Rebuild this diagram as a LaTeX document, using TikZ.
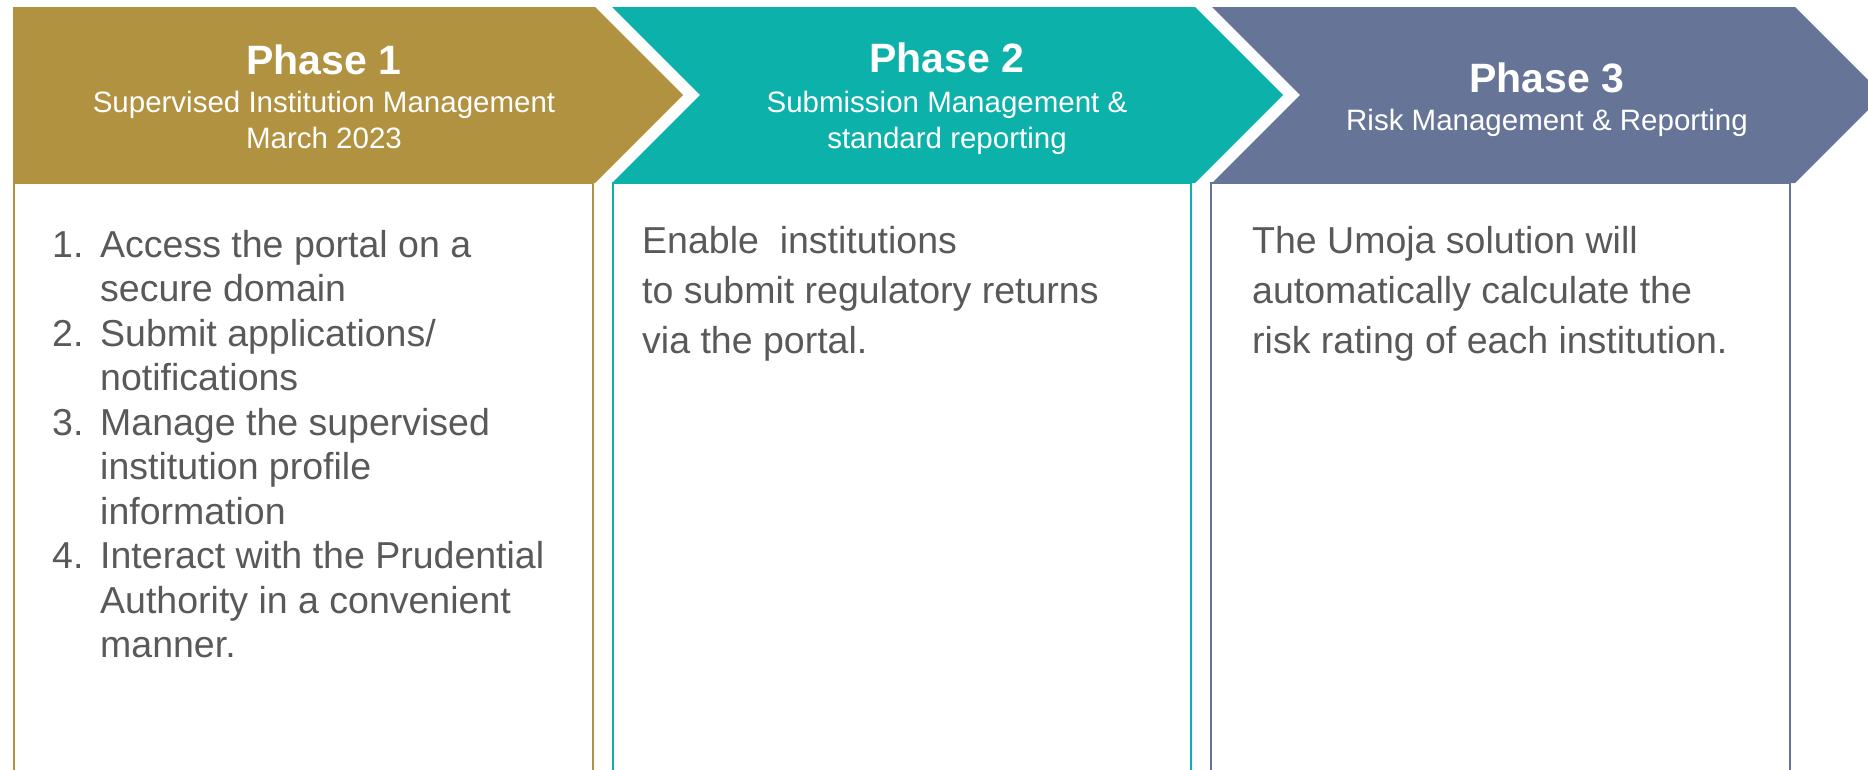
\documentclass[tikz,border=0pt]{standalone}
\usepackage{fontspec}
\setmainfont{Liberation Sans}

\definecolor{phasegold}{RGB}{177,146,65}
\definecolor{phaseteal}{RGB}{12,177,170}
\definecolor{phaseblue}{RGB}{102,117,151}
\definecolor{bodygrey}{RGB}{89,89,89}

\tikzset{
  phasetitle/.style={text=white, inner sep=0pt, anchor=base,
    font=\fontsize{41}{48}\selectfont\bfseries},
  phasesub/.style={text=white, inner sep=0pt, anchor=base,
    font=\fontsize{29.5}{36}\selectfont},
  bodytext/.style={text=bodygrey, inner sep=0pt, anchor=base west,
    font=\fontsize{37.5}{44.5}\selectfont},
  bodywide/.style={bodytext, font=\fontsize{37.5}{50}\selectfont},
}

\begin{document}
\begin{tikzpicture}[x=1pt, y=-1pt]
    \clip (0, 0) rectangle (1868, 769);
    % body boxes, open at the bottom
    \draw[phasegold, line width=2pt] (14, 780) -- (14, 183) -- (593, 183) -- (593, 780);
    \draw[phaseteal, line width=2pt] (613, 780) -- (613, 183) -- (1191, 183) -- (1191, 780);
    \draw[phaseblue, line width=2pt] (1211, 780) -- (1211, 183) -- (1790, 183) -- (1790, 780);
    % chevrons
    \fill[phasegold] (13, 7) -- (595, 7) -- (683, 95) -- (595, 183) -- (13, 183) -- cycle;
    \fill[phaseteal] (612, 7) -- (1195, 7) -- (1283, 95) -- (1195, 183)
                     -- (612, 183) -- (700, 95) -- cycle;
    \fill[phaseblue] (1212, 7) -- (1795, 7) -- (1883, 95) -- (1795, 183)
                     -- (1212, 183) -- (1300, 95) -- cycle;
    % headings
    \node (ph1) [phasetitle] at (324, 74) {Phase 1};
    \node (ph1sub) [phasesub] at (324, 112)
          {\begin{tabular}[t]{@{}c@{}}Supervised Institution Management\\ March 2023\end{tabular}};
    \node (ph2) [phasetitle] at (947, 72) {Phase 2};
    \node (ph2sub) [phasesub] at (947, 112)
          {\begin{tabular}[t]{@{}c@{}}Submission Management \&\\ standard reporting\end{tabular}};
    \node (ph3) [phasetitle] at (1547, 92) {Phase 3};
    \node (ph3sub) [phasesub] at (1547, 130) {Risk Management \& Reporting};
    % body texts
    \node (ph1body) [bodytext] at (52, 257)
          {\begin{tabular}[t]{@{}p{48pt}@{}l@{}}
             1. & Access the portal on a\\
                & secure domain\\
             2. & Submit applications/\\
                & notifications\\
             3. & Manage the supervised\\
                & institution profile\\
                & information\\
             4. & Interact with the Prudential\\
                & Authority in a convenient\\
                & manner.
           \end{tabular}};
    \node (ph2body) [bodywide] at (642, 253)
          {\begin{tabular}[t]{@{}l@{}}
             Enable\ \ institutions\\
             to submit regulatory returns\\
             via the portal.
           \end{tabular}};
    \node (ph3body) [bodywide] at (1252, 253)
          {\begin{tabular}[t]{@{}l@{}}
             The Umoja solution will\\
             automatically calculate the\\
             risk rating of each institution.
           \end{tabular}};
\end{tikzpicture}
\end{document}
